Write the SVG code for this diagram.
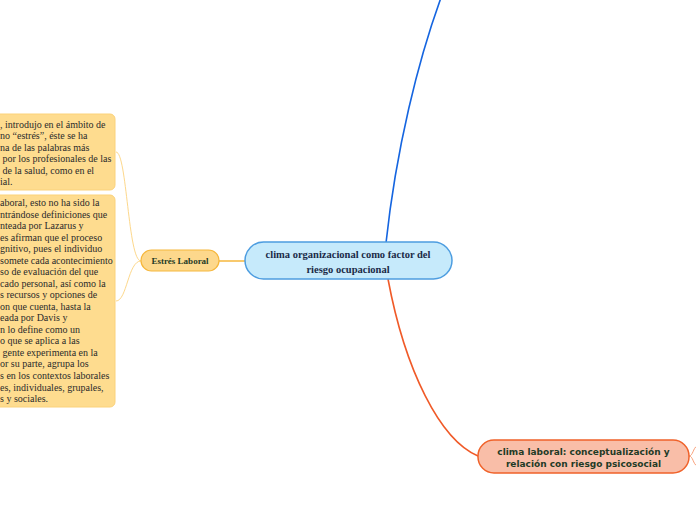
<svg xmlns="http://www.w3.org/2000/svg" width="696" height="520" viewBox="0 0 696 520">
<style>
.note{fill:#fedc8f;stroke:#fbd27a;stroke-width:1}
.nt{font-family:"Liberation Serif",serif;font-size:10px;fill:#2b2b2b}
.c{font-family:"Liberation Serif",serif;font-weight:bold;font-size:10.5px;fill:#1b2a48;text-anchor:middle}
.e{font-family:"Liberation Serif",serif;font-weight:bold;font-size:9px;fill:#1f3b26;text-anchor:middle}
.s{font-family:"DejaVu Sans",sans-serif;font-weight:bold;font-size:9px;fill:#1f3b26;text-anchor:middle}
</style>
<rect width="696" height="520" fill="#ffffff"/>
<g id="connectors" fill="none">
<path d="M386,243 C396,150 418,60 442,-5" stroke="#1565e0" stroke-width="1.6"/>
<path d="M388,279 C405,370 440,440 478,456" stroke="#f05a28" stroke-width="1.6"/>
<path d="M245,261 L219,261" stroke="#f6b73c" stroke-width="1.5"/>
<path d="M141,261 C128,261 127,152 116,152" stroke="#fdd88c" stroke-width="1"/>
<path d="M141,261 C128,261 127,301 116,301" stroke="#fdd88c" stroke-width="1"/>
<path d="M689,456 C693,456 693,448 697,446 M689,456 C693,456 693,464 697,466" stroke="#f9a07a" stroke-width="1"/>
</g>
<g id="note1">
<rect class="note" x="-10" y="114" width="125" height="76" rx="5"/>
<text class="nt"><tspan x="0" y="127.5">, introdujo en el ámbito de</tspan><tspan x="0" y="139">no “estrés”, éste se ha</tspan><tspan x="0" y="150.5">na de las palabras más</tspan><tspan x="0" y="162"> por los profesionales de las</tspan><tspan x="0" y="173.5"> de la salud, como en el</tspan><tspan x="0" y="185">ial.</tspan></text>
</g>
<g id="note2">
<rect class="note" x="-10" y="195" width="125" height="212" rx="5"/>
<text class="nt"><tspan x="0" y="206">aboral, esto no ha sido la</tspan><tspan x="0" y="217.5">ntrándose definiciones que</tspan><tspan x="0" y="229">nteada por Lazarus y</tspan><tspan x="0" y="240.6">es afirman que el proceso</tspan><tspan x="0" y="252.1">gnitivo, pues el individuo</tspan><tspan x="0" y="263.6">somete cada acontecimiento</tspan><tspan x="0" y="275.2">so de evaluación del que</tspan><tspan x="0" y="286.7">cado personal, así como la</tspan><tspan x="0" y="298.2">s recursos y opciones de</tspan><tspan x="0" y="309.8">on que cuenta, hasta la</tspan><tspan x="0" y="321.3">eada por Davis y</tspan><tspan x="0" y="332.8">n lo define como un</tspan><tspan x="0" y="344.4">o que se aplica a las</tspan><tspan x="0" y="355.9"> gente experimenta en la</tspan><tspan x="0" y="367.4">or su parte, agrupa los</tspan><tspan x="0" y="379">s en los contextos laborales</tspan><tspan x="0" y="390.5">es, individuales, grupales,</tspan><tspan x="0" y="402">s y sociales.</tspan></text>
</g>
<g id="estres">
<rect x="141" y="250" width="78" height="21" rx="10.5" fill="#fdd88c" stroke="#f6b73c" stroke-width="1.2"/>
<text class="e" x="180" y="264">Estrés Laboral</text>
</g>
<g id="central">
<rect x="245" y="242" width="207" height="37" rx="18.5" fill="#c6eafb" stroke="#4d9de0" stroke-width="1.5"/>
<text class="c"><tspan x="348" y="258">clima organizacional como factor del</tspan><tspan x="348" y="272.5">riesgo ocupacional</tspan></text>
</g>
<g id="clima-laboral">
<rect x="478" y="440" width="211" height="33" rx="16" fill="#f9bea8" stroke="#f0622a" stroke-width="1.5"/>
<text class="s"><tspan x="583.5" y="455">clima laboral: conceptualización y</tspan><tspan x="583.5" y="467">relación con riesgo psicosocial</tspan></text>
</g>
</svg>
